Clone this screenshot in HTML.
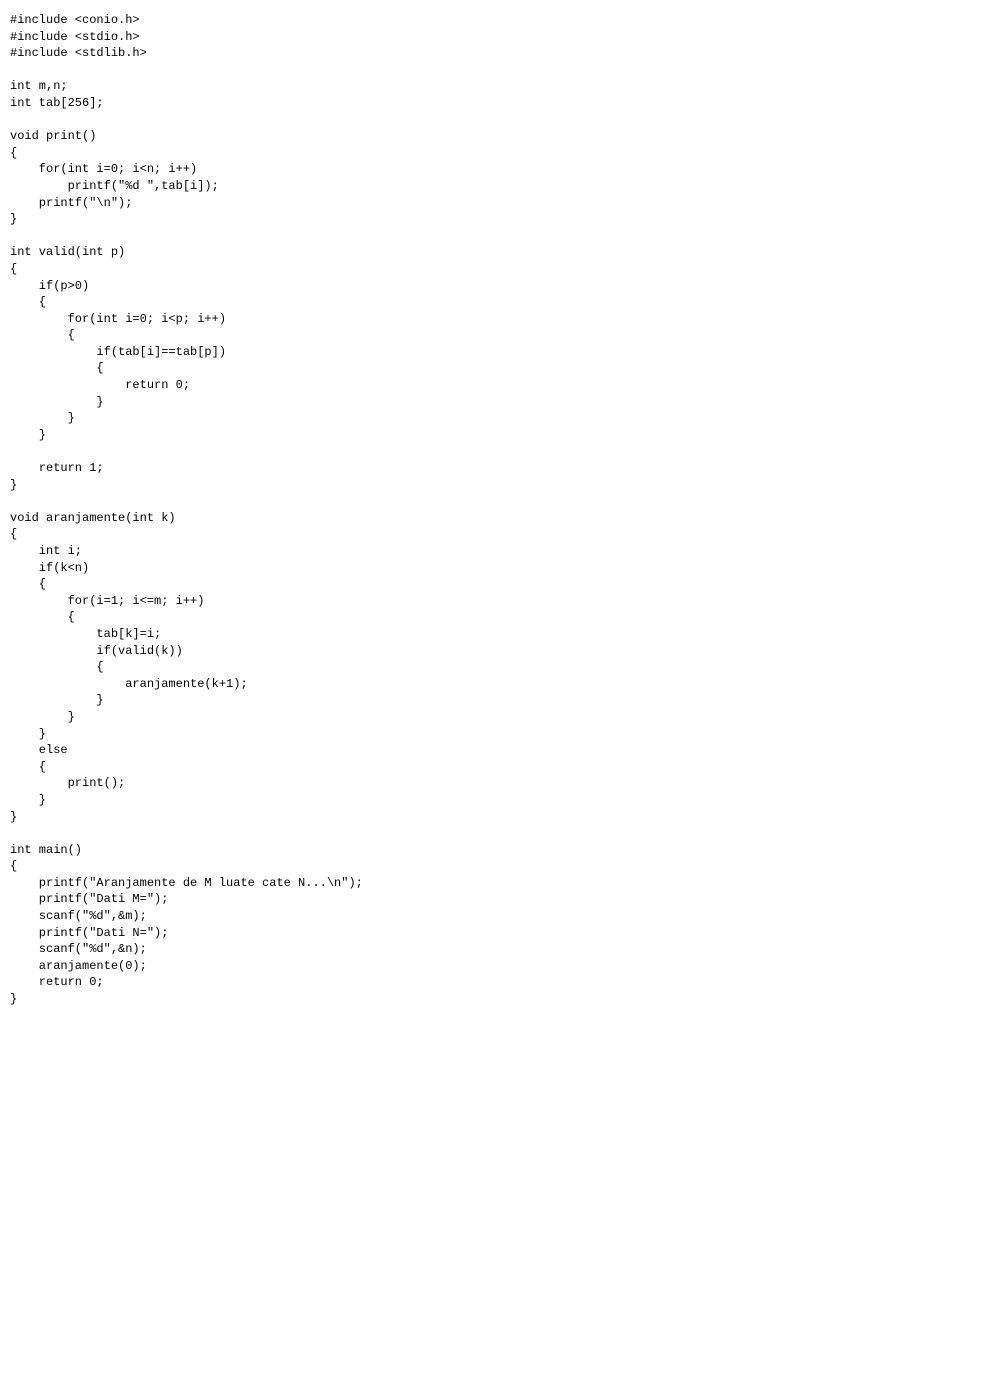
<!DOCTYPE html>
<html><head><style>
html,body{margin:0;padding:0;background:#fff;width:984px;height:1390px;overflow:hidden}
pre{margin:0;position:absolute;left:10px;top:12px;font-family:"Liberation Mono",monospace;font-size:12px;line-height:16.6px;color:#000}
</style></head><body>
<pre>#include &lt;conio.h&gt;
#include &lt;stdio.h&gt;
#include &lt;stdlib.h&gt;

int m,n;
int tab[256];

void print()
{
    for(int i=0; i&lt;n; i++)
        printf("%d ",tab[i]);
    printf("\n");
}

int valid(int p)
{
    if(p&gt;0)
    {
        for(int i=0; i&lt;p; i++)
        {
            if(tab[i]==tab[p])
            {
                return 0;
            }
        }
    }

    return 1;
}

void aranjamente(int k)
{
    int i;
    if(k&lt;n)
    {
        for(i=1; i&lt;=m; i++)
        {
            tab[k]=i;
            if(valid(k))
            {
                aranjamente(k+1);
            }
        }
    }
    else
    {
        print();
    }
}

int main()
{
    printf("Aranjamente de M luate cate N...\n");
    printf("Dati M=");
    scanf("%d",&amp;m);
    printf("Dati N=");
    scanf("%d",&amp;n);
    aranjamente(0);
    return 0;
}</pre>
</body></html>
